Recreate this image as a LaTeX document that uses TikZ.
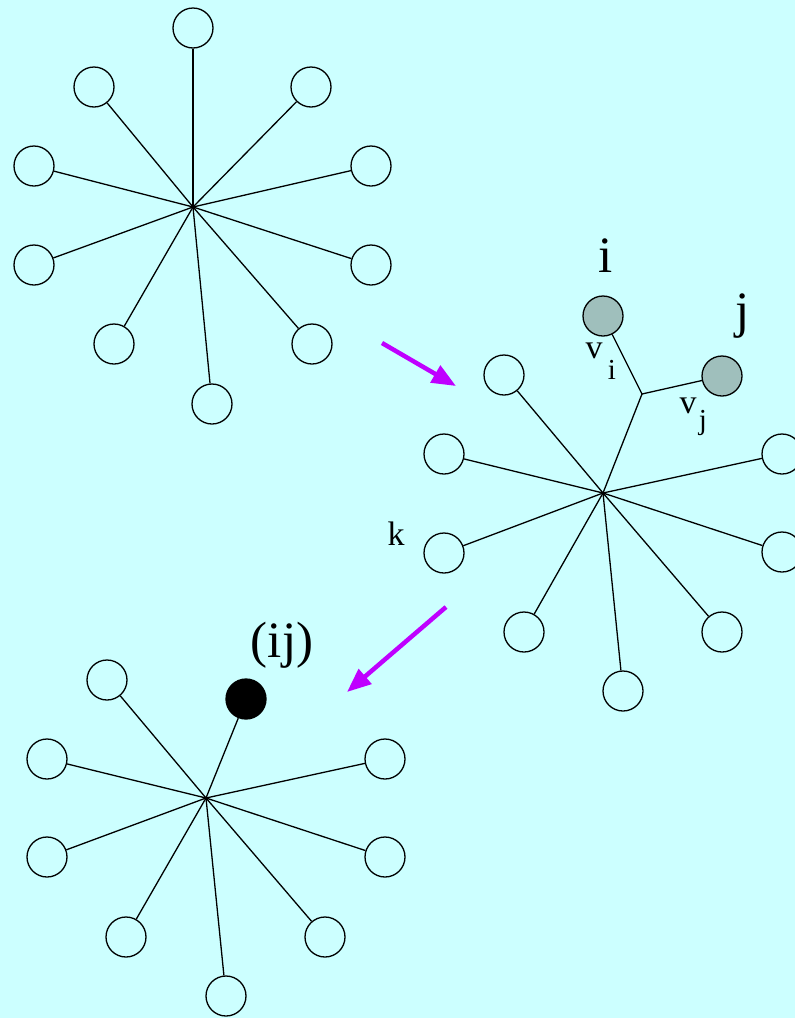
\documentclass[tikz,border=0pt]{standalone}
\usepackage{fontspec}
\setmainfont{Liberation Serif}
\usetikzlibrary{arrows.meta, positioning}
\definecolor{bgcyan}{HTML}{CCFFFF}
\definecolor{leafgray}{HTML}{9FBFBC}
\definecolor{arrowpurple}{HTML}{BF00FF}
\tikzstyle{leaf}      = [draw, circle, line width=1.3pt, minimum size=40pt, inner sep=0pt, fill=none]
\tikzstyle{merged}    = [leaf, fill=leafgray]
\tikzstyle{joined}    = [leaf, fill=black]
\tikzstyle{edge}      = [line width=1.3pt]
\tikzstyle{step arrow}= [line width=4.5pt, arrowpurple, -{Triangle[length=24pt,width=19pt]}]
\tikzstyle{biglabel}  = [anchor=base, inner sep=0pt, font=\fontsize{51}{51}\selectfont]
\tikzstyle{smalllabel}= [anchor=base, inner sep=0pt, font=\fontsize{34}{34}\selectfont]
\tikzstyle{sublabel}  = [anchor=base, inner sep=0pt, font=\fontsize{29}{29}\selectfont]

\begin{document}
\begin{tikzpicture}[x=1pt, y=-1pt]

    \fill[bgcyan] (0,0) rectangle (795,1018);
    \useasboundingbox (0,0) rectangle (795,1018);

    % first star
    \coordinate (A) at (193,207);
    \node[leaf] (A1)  at (193,28)  {};
    \node[leaf] (A2)  at (94,87)   {};
    \node[leaf] (A3)  at (311,87)  {};
    \node[leaf] (A4)  at (34,166)  {};
    \node[leaf] (A5)  at (371,166) {};
    \node[leaf] (A6)  at (34,265)  {};
    \node[leaf] (A7)  at (371,265) {};
    \node[leaf] (A8)  at (114,344) {};
    \node[leaf] (A9)  at (312,344) {};
    \node[leaf] (A10) at (212,404) {};

    \draw[edge] (A) -- (A1);
    \draw[edge] (A) -- (A2);
    \draw[edge] (A) -- (A3);
    \draw[edge] (A) -- (A4);
    \draw[edge] (A) -- (A5);
    \draw[edge] (A) -- (A6);
    \draw[edge] (A) -- (A7);
    \draw[edge] (A) -- (A8);
    \draw[edge] (A) -- (A9);
    \draw[edge] (A) -- (A10);

    % second star, with i and j joined
    \coordinate (B) at (603,493);
    \coordinate (BV) at (642,394);
    \node[leaf] (B1) at (504,375) {};
    \node[leaf] (B2) at (444,454) {};
    \node[leaf] (B3) at (782,454) {};
    \node[leaf] (B4) at (444,553) {};
    \node[leaf] (B5) at (782,552) {};
    \node[leaf] (B6) at (524,632) {};
    \node[leaf] (B7) at (722,632) {};
    \node[leaf] (B8) at (623,691) {};
    \node[merged] (BI) at (603,316) {};
    \node[merged] (BJ) at (722,376) {};

    \draw[edge] (B) -- (B1);
    \draw[edge] (B) -- (B2);
    \draw[edge] (B) -- (B3);
    \draw[edge] (B) -- (B4);
    \draw[edge] (B) -- (B5);
    \draw[edge] (B) -- (B6);
    \draw[edge] (B) -- (B7);
    \draw[edge] (B) -- (B8);
    \draw[edge] (B) -- (BV);
    \draw[edge] (BV) -- (BI);
    \draw[edge] (BV) -- (BJ);

    \node[biglabel]   (LI)  at (606,272) {i};
    \node[biglabel]   (LJ)  at (743,327) {j};
    \node[smalllabel] (LVI) at (594,358) {v};
    \node[sublabel]   (LSI) at (612,379) {i};
    \node[smalllabel] (LVJ) at (688,413) {v};
    \node[sublabel]   (LSJ) at (703,429) {j};
    \node[smalllabel] (LK)  at (396,545) {k};

    % third star
    \coordinate (C) at (206,798);
    \node[leaf] (C1) at (107,680) {};
    \node[joined] (CIJ) at (246,699) {};
    \node[leaf] (C2) at (47,759)  {};
    \node[leaf] (C3) at (385,759) {};
    \node[leaf] (C4) at (47,857)  {};
    \node[leaf] (C5) at (385,857) {};
    \node[leaf] (C6) at (126,937) {};
    \node[leaf] (C7) at (325,937) {};
    \node[leaf] (C8) at (226,996) {};

    \draw[edge] (C) -- (C1);
    \draw[edge] (C) -- (CIJ);
    \draw[edge] (C) -- (C2);
    \draw[edge] (C) -- (C3);
    \draw[edge] (C) -- (C4);
    \draw[edge] (C) -- (C5);
    \draw[edge] (C) -- (C6);
    \draw[edge] (C) -- (C7);
    \draw[edge] (C) -- (C8);

    \node[biglabel] (LIJ) at (282,657) {(ij)};

    % steps
    \coordinate (S1) at (382,343);
    \coordinate (T1) at (456,386);
    \coordinate (S2) at (446,607);
    \coordinate (T2) at (347,692);
    \draw[step arrow] (S1) -- (T1);
    \draw[step arrow] (S2) -- (T2);

\end{tikzpicture}
\end{document}
